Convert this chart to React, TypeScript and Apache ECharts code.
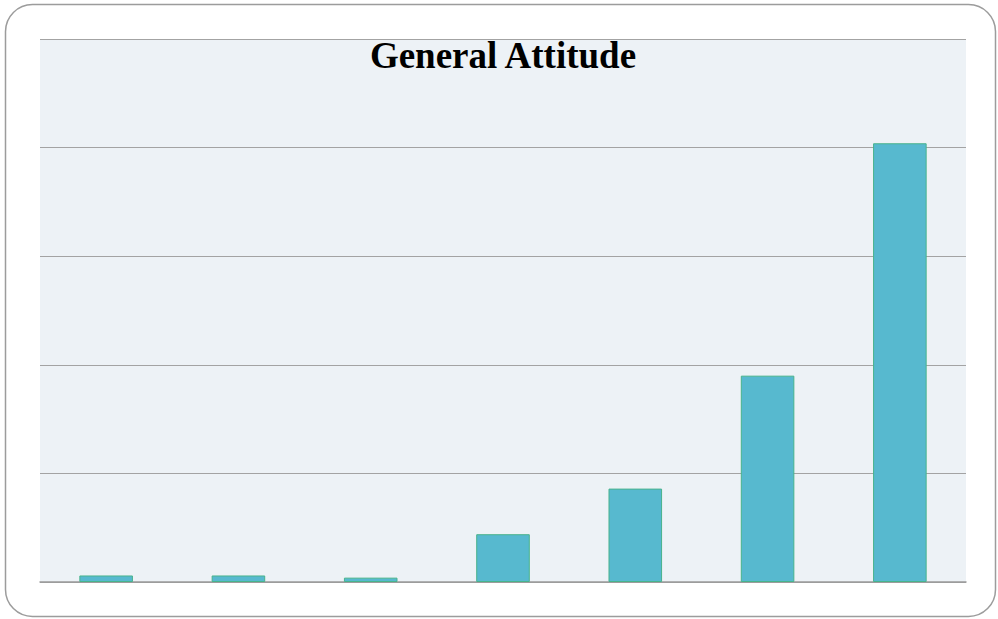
import React, { useEffect, useRef } from "react";
import * as echarts from "echarts";

// Rating levels (1 = lowest, 7 = highest) and number of responses per level
const categories = ["1", "2", "3", "4", "5", "6", "7"];
const responses = [3, 3, 2, 22, 43, 95, 202];
const axisMax = 250;
const axisStep = 50;

export default function App() {
  const ref = useRef<HTMLDivElement>(null);

  useEffect(() => {
    if (!ref.current) return;
    const chart = echarts.init(ref.current, null, { renderer: "svg" });
    chart.setOption({
      animation: false,
      backgroundColor: "#ffffff",
      grid: {
        left: 40,
        right: 32,
        top: 39,
        bottom: 37,
        show: true,
        backgroundColor: "#edf2f6",
        borderWidth: 0,
      },
      xAxis: {
        type: "category",
        data: categories,
        axisLine: { show: true, lineStyle: { color: "#9a9a9a", width: 1.5 } },
        axisTick: { show: false },
        axisLabel: { show: false },
      },
      yAxis: {
        type: "value",
        min: 0,
        max: axisMax,
        interval: axisStep,
        axisLine: { show: false },
        axisTick: { show: false },
        axisLabel: { show: false },
        splitLine: { show: true, lineStyle: { color: "#a3a3a3", width: 1.2 } },
      },
      series: [
        {
          type: "bar",
          data: responses,
          barWidth: "40.5%",
          itemStyle: {
            color: "#57b9cf",
            borderColor: "#48b38c",
            borderWidth: 1,
          },
        },
      ],
      graphic: [
        {
          type: "rect",
          shape: { x: 5.5, y: 4.5, width: 990, height: 612, r: 27 },
          style: { fill: "none", stroke: "#9c9c9c", lineWidth: 1.5 },
          silent: true,
          z: 10,
        },
        {
          type: "text",
          x: 503,
          y: 55,
          style: {
            text: "General Attitude",
            font: 'bold 37px "Liberation Serif", "Times New Roman", serif',
            fill: "#000000",
            textAlign: "center",
            textVerticalAlign: "middle",
          },
          z: 10,
        },
      ],
    });
    return () => chart.dispose();
  }, []);

  return (
    <div
      ref={ref}
      style={{ position: "absolute", left: 0, top: 0, width: 998, height: 619 }}
    />
  );
}
